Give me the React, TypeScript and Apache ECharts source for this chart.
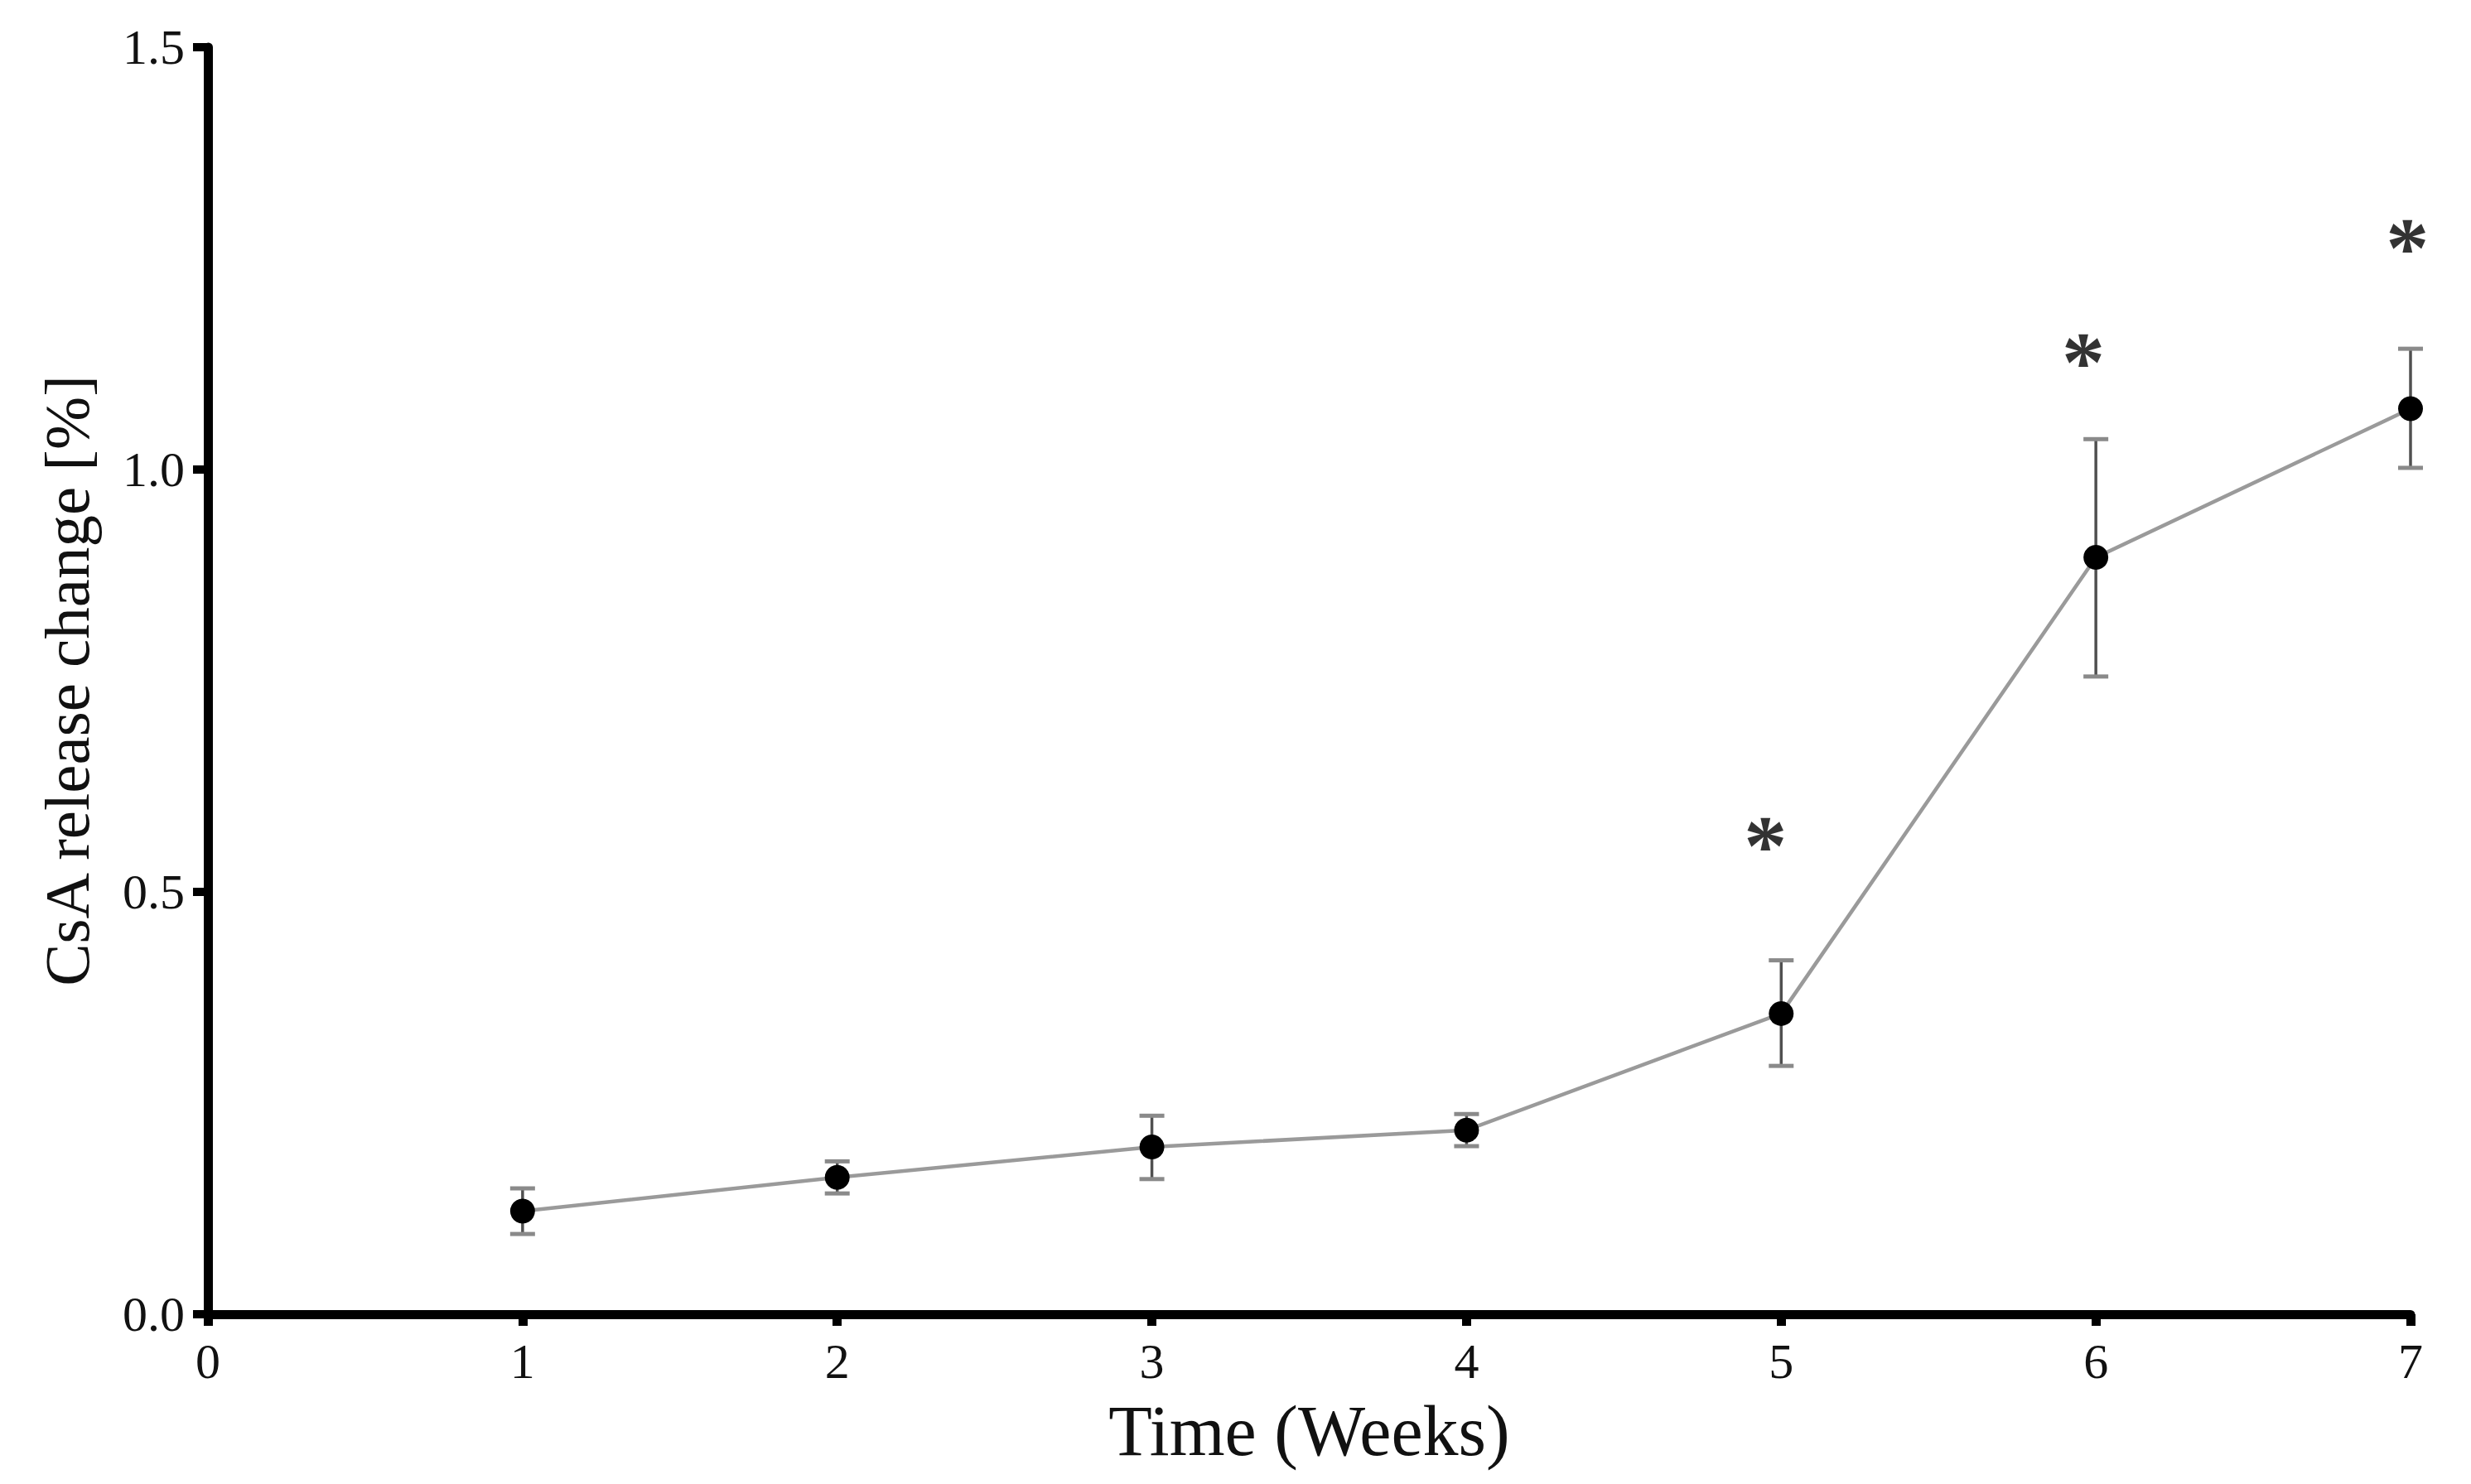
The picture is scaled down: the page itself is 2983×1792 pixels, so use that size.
import React, { useEffect, useRef } from "react";
import * as echarts from "echarts";

const weeks = [1, 2, 3, 4, 5, 6, 7];
const meanRelease = [0.122, 0.162, 0.198, 0.218, 0.356, 0.896, 1.072];
const errUpper = [0.149, 0.181, 0.235, 0.237, 0.419, 1.036, 1.143];
const errLower = [0.095, 0.143, 0.16, 0.199, 0.294, 0.755, 1.002];
const sigX = [4.95, 5.96, 6.99];
const sigY = [0.567, 1.14, 1.275];
const xTitle = "Time (Weeks)";
const yTitle = "CsA release change [%]";

const SERIF = "'Liberation Serif', 'Times New Roman', serif";

export default function App() {
  const ref = useRef<HTMLDivElement>(null);
  useEffect(() => {
    document.body.style.margin = "0";
    const chart = echarts.init(ref.current!, null, { renderer: "svg" });
    chart.setOption({
      animation: false,
      backgroundColor: "#ffffff",
      grid: { left: 251, right: 73, top: 57, bottom: 205, containLabel: false },
      xAxis: {
        type: "value",
        min: 0,
        max: 7,
        interval: 1,
        name: xTitle,
        nameLocation: "middle",
        nameGap: 98,
        nameTextStyle: { fontFamily: SERIF, fontSize: 86, color: "#111" },
        axisLine: { lineStyle: { color: "#000", width: 11 } },
        axisTick: { length: 14, lineStyle: { color: "#000", width: 11 } },
        splitLine: { show: false },
        axisLabel: { fontFamily: SERIF, fontSize: 60, color: "#111", margin: 27 },
      },
      yAxis: {
        type: "value",
        min: 0,
        max: 1.5,
        interval: 0.5,
        name: yTitle,
        nameLocation: "middle",
        nameGap: 132,
        nameRotate: 90,
        nameTextStyle: { fontFamily: SERIF, fontSize: 77, color: "#111" },
        axisLine: { lineStyle: { color: "#000", width: 11 } },
        axisTick: { length: 18, lineStyle: { color: "#000", width: 10 } },
        splitLine: { show: false },
        axisLabel: {
          fontFamily: SERIF,
          fontSize: 60,
          color: "#111",
          margin: 28,
          formatter: (v: number) => v.toFixed(1),
        },
      },
      series: [
        {
          type: "custom",
          z: 2,
          data: weeks.map((w, i) => [w, errUpper[i], errLower[i]]),
          encode: { x: 0, y: [1, 2] },
          renderItem: (params: any, api: any) => {
            const x = api.value(0);
            const top = api.coord([x, api.value(1)]);
            const bot = api.coord([x, api.value(2)]);
            const cw = 15;
            return {
              type: "group",
              children: [
                {
                  type: "line",
                  shape: { x1: top[0], y1: top[1], x2: bot[0], y2: bot[1] },
                  style: { stroke: "#505050", lineWidth: 3.5 },
                },
                {
                  type: "line",
                  shape: { x1: top[0] - cw, y1: top[1], x2: top[0] + cw, y2: top[1] },
                  style: { stroke: "#8a8a8a", lineWidth: 5 },
                },
                {
                  type: "line",
                  shape: { x1: bot[0] - cw, y1: bot[1], x2: bot[0] + cw, y2: bot[1] },
                  style: { stroke: "#8a8a8a", lineWidth: 5 },
                },
              ],
            };
          },
        },
        {
          type: "line",
          z: 3,
          data: weeks.map((w, i) => [w, meanRelease[i]]),
          symbol: "circle",
          symbolSize: 30,
          itemStyle: { color: "#000" },
          lineStyle: { color: "#9a9a9a", width: 4.5 },
        },
        {
          type: "scatter",
          z: 4,
          data: sigX.map((x, i) => [x, sigY[i]]),
          symbolSize: 1,
          itemStyle: { color: "rgba(0,0,0,0)" },
          label: {
            show: true,
            position: "inside",
            formatter: "*",
            fontFamily: SERIF,
            fontWeight: "bold",
            fontSize: 104,
            color: "#000",
            offset: [0, 12],
          },
        },
      ],
    });
    return () => chart.dispose();
  }, []);
  return <div ref={ref} style={{ width: 2983, height: 1792 }} />;
}
